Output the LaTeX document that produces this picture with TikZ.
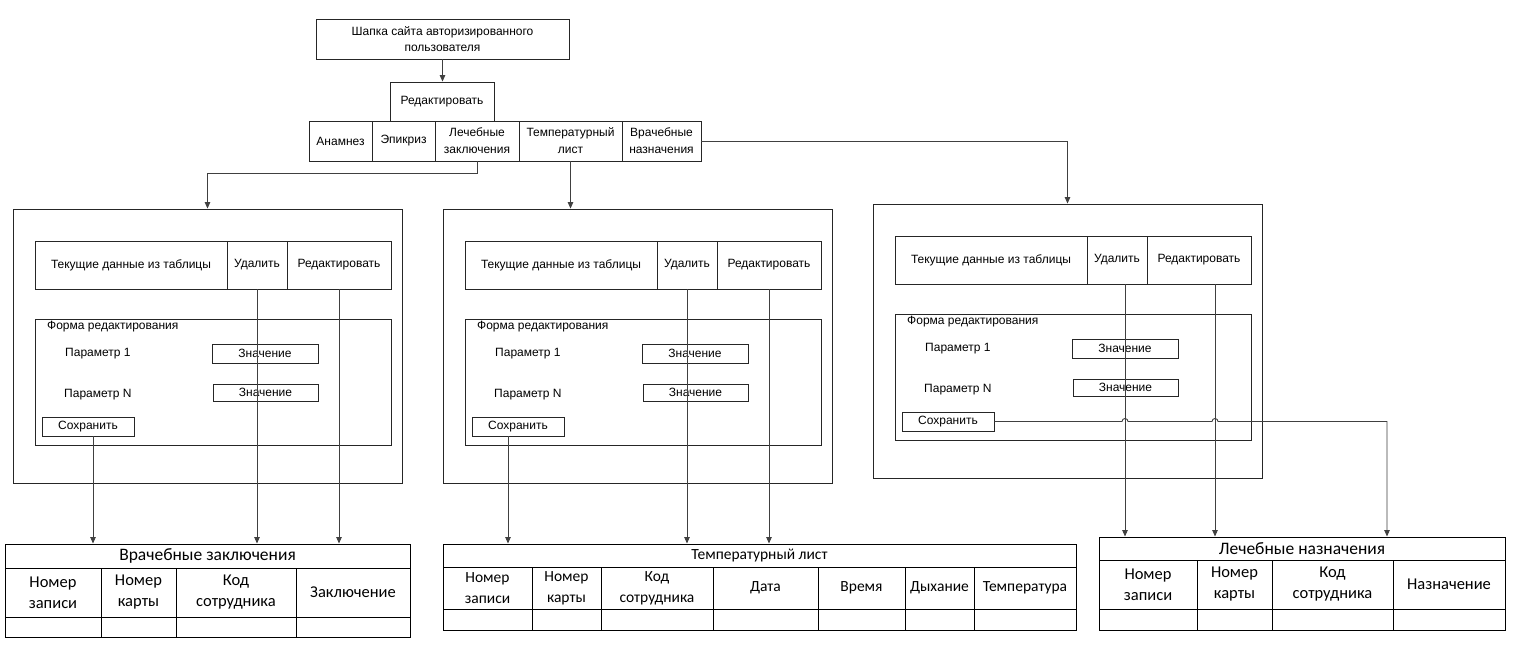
\documentclass[tikz,border=0pt]{standalone}
\usepackage{fontspec}
\setmainfont{Liberation Sans}
\newfontfamily\tabfont{Carlito}
\usetikzlibrary{arrows.meta,calc}
\tikzset{
  x=1pt, y=-1pt,
  bx/.style={draw=black!85, line width=0.9pt, inner sep=0pt, align=center,
    font=\fontsize{12}{17}\selectfont},
  tc/.style={draw=black, line width=1pt, inner sep=0pt, align=center,
    font=\tabfont\fontsize{16.5}{21}\selectfont},
  tch/.style={tc, font=\tabfont\fontsize{17.5}{21}\selectfont},
  tcs/.style={tc, font=\tabfont\fontsize{15.5}{21}\selectfont},
  lbl/.style={inner sep=0pt, anchor=west, font=\fontsize{12}{14}\selectfont},
  con/.style={draw=black!75, line width=0.9pt},
  arr/.style={con, -{Triangle[length=6.5pt,width=5.5pt]}},
}
\newcommand\bx[7][]{\node[bx,#1,minimum width={(#5-#3)*1pt},minimum height={(#6-#4)*1pt}] (#2) at ({(#3+#5)/2},{(#4+#6)/2}) {#7};}
\newcommand\panel[3]{%
\begin{scope}[shift={(#2,#3)}]
\bx{p#1}{13}{209}{402}{483}{}
\bx{cur#1}{35}{241}{227}{289}{Текущие данные из таблицы}
\bx{del#1}{227}{241}{287}{289}{Удалить}
\bx{ed#1}{287}{241}{391}{289}{Редактировать}
\bx{frm#1}{35}{319}{391}{445}{}
\node[lbl] (fl#1) at (47,327) {Форма редактирования};
\node[lbl] (pa#1) at (65,354) {Параметр 1};
\bx{va#1}{212}{344}{318}{363}{Значение}
\node[lbl] (pn#1) at (64,395) {Параметр N};
\bx{vb#1}{213}{384}{318}{401}{Значение}
\bx{sav#1}{42}{417}{134}{436}{Сохранить}
\end{scope}}
\begin{document}
\begin{tikzpicture}
\useasboundingbox[fill=white] (0,0) rectangle (1515,645);
% top
\bx[font=\fontsize{12}{16}\selectfont]{hdr}{316}{19}{569}{59}{Шапка сайта авторизированного\\пользователя}
\bx{red}{390}{82}{494}{121}{Редактировать}
\bx{t1}{309}{121}{372}{161}{Анамнез}
\bx{t2}{372}{121}{435}{161}{Эпикриз}
\bx{t3}{435}{121}{519}{161}{Лечебные\\заключения}
\bx{t4}{519}{121}{622}{161}{Температурный\\лист}
\bx{t5}{622}{121}{701}{161}{Врачебные\\назначения}
% panels
\panel{1}{0}{0}
\panel{2}{430}{0}
\panel{3}{860}{-5}
% table 1
\bx[tch]{T1h}{5}{544}{410}{568}{Врачебные заключения}
\foreach \a/\b/\t [count=\i] in {5/101/{Номер\\записи},101/176/{Номер\\карты},176/296/{Код\\сотрудника},296/410/{Заключение}}
  {\bx[tc]{T1c\i}{\a}{568}{\b}{617}{\t}\bx[tc]{T1e\i}{\a}{617}{\b}{637}{}}
% table 2
\bx[tcs]{T2h}{443}{544}{1076}{567}{Температурный лист}
\foreach \a/\b/\t [count=\i] in {443/532/{Номер\\записи},532/601/{Номер\\карты},601/713/{Код\\сотрудника},713/818/{Дата},818/905/{Время},905/974/{Дыхание},974/1076/{Температура}}
  {\bx[tcs]{T2c\i}{\a}{567}{\b}{609}{\t}\bx[tcs]{T2e\i}{\a}{609}{\b}{630}{}}
% table 3
\bx[tch]{T3h}{1099}{537}{1505}{560}{Лечебные назначения}
\foreach \a/\b/\t [count=\i] in {1099/1197/{Номер\\записи},1197/1272/{Номер\\карты},1272/1393/{Код\\сотрудника},1393/1505/{Назначение}}
  {\bx[tc]{T3c\i}{\a}{560}{\b}{609}{\t}\bx[tc]{T3e\i}{\a}{609}{\b}{630}{}}
% connectors top
\draw[arr] (hdr.south) -- (hdr.south |- red.north);
\draw[arr] (t3.south) -- ++(0,12) -| (p1.north);
\draw[arr] (t4.south) -- (t4.south |- p2.north);
\draw[arr] (t5.east) -| (p3.north);
% panel 1
\draw[arr] ([xshift=5pt]sav1.south) -- ([xshift=5pt]sav1.south |- T1h.north);
\draw[arr] (del1.south) -- (del1.south |- T1h.north);
\draw[arr] (ed1.south) -- (ed1.south |- T1h.north);
% panel 2
\draw[arr] ([xshift=-10pt]sav2.south) -- ([xshift=-10pt]sav2.south |- T2h.north);
\draw[arr] (del2.south) -- (del2.south |- T2h.north);
\draw[arr] (ed2.south) -- (ed2.south |- T2h.north);
% panel 3
\coordinate (d3) at ([xshift=8pt]del3.south);
\coordinate (e3) at ([xshift=16pt]ed3.south);
\draw[arr] (d3) -- (d3 |- T3h.north);
\draw[arr] (e3) -- (e3 |- T3h.north);
\coordinate (j3) at (1387,0);
\draw[arr] (sav3.east) -- ($(sav3.east -| d3)+(-3,0)$)
  arc[start angle=180,end angle=0,radius=3pt]
  -- ($(sav3.east -| e3)+(-3,0)$)
  arc[start angle=180,end angle=0,radius=3pt]
  -| (j3 |- T3h.north);
\end{tikzpicture}
\end{document}
